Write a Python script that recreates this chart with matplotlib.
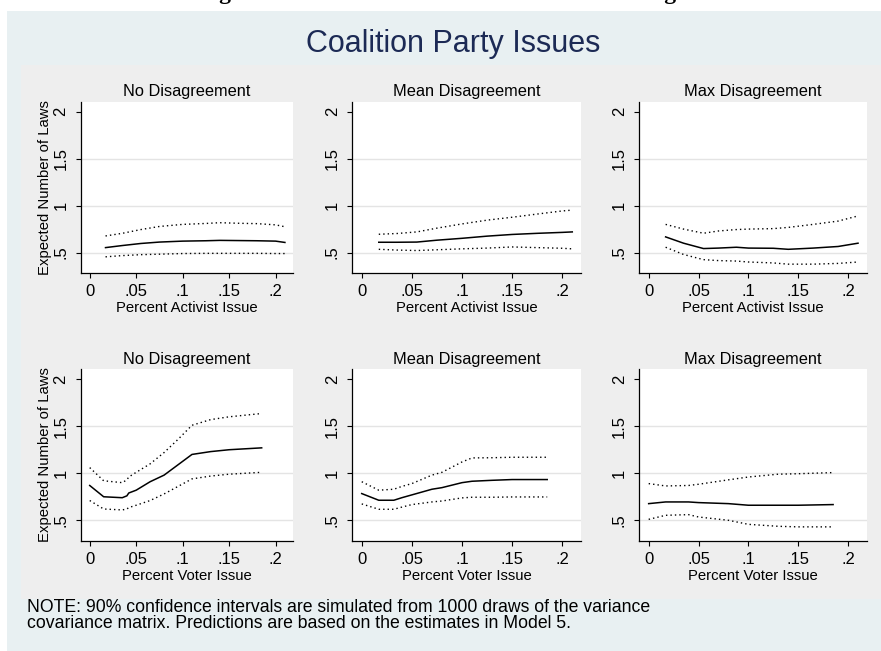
import matplotlib
matplotlib.use("Agg")
import matplotlib.pyplot as plt
from matplotlib.patches import Rectangle

plt.rcParams['font.family'] = ['Liberation Sans', 'DejaVu Sans']

W, H = 881, 651

# predicted laws by share of activist issues (top row)
no_act_x = [0.017, 0.035, 0.055, 0.075, 0.1, 0.125, 0.14, 0.16, 0.18, 0.2, 0.21]
no_act_est = [0.553, 0.575, 0.597, 0.612, 0.622, 0.626, 0.630, 0.628, 0.626, 0.622, 0.608]
no_act_hi = [0.677, 0.705, 0.745, 0.778, 0.800, 0.810, 0.818, 0.812, 0.808, 0.795, 0.775]
no_act_lo = [0.455, 0.468, 0.478, 0.483, 0.490, 0.492, 0.492, 0.492, 0.492, 0.490, 0.490]

mean_act_x = [0.017, 0.035, 0.055, 0.075, 0.1, 0.125, 0.15, 0.175, 0.2, 0.21]
mean_act_est = [0.61, 0.61, 0.612, 0.632, 0.652, 0.675, 0.693, 0.705, 0.715, 0.72]
mean_act_hi = [0.695, 0.703, 0.72, 0.76, 0.805, 0.845, 0.876, 0.91, 0.943, 0.952]
mean_act_lo = [0.535, 0.527, 0.522, 0.53, 0.54, 0.548, 0.56, 0.553, 0.546, 0.54]

max_act_x = [0.017, 0.035, 0.055, 0.07, 0.088, 0.1, 0.125, 0.14, 0.165, 0.19, 0.21]
max_act_est = [0.667, 0.60, 0.543, 0.548, 0.557, 0.548, 0.546, 0.535, 0.548, 0.565, 0.60]
max_act_hi = [0.80, 0.75, 0.706, 0.73, 0.745, 0.75, 0.755, 0.768, 0.80, 0.835, 0.89]
max_act_lo = [0.557, 0.48, 0.425, 0.415, 0.41, 0.40, 0.39, 0.377, 0.377, 0.385, 0.40]

# predicted laws by share of voter issues (bottom row)
no_vot_x = [0.0, 0.015, 0.035, 0.04, 0.042, 0.05, 0.065, 0.08, 0.095, 0.11, 0.13, 0.15, 0.185]
no_vot_est = [0.87, 0.75, 0.74, 0.76, 0.79, 0.82, 0.91, 0.98, 1.09, 1.20, 1.23, 1.25, 1.27]
no_vot_hi = [1.06, 0.92, 0.90, 0.93, 0.96, 1.01, 1.10, 1.22, 1.36, 1.51, 1.57, 1.60, 1.635]
no_vot_lo = [0.71, 0.62, 0.61, 0.62, 0.635, 0.66, 0.71, 0.78, 0.86, 0.94, 0.97, 0.99, 1.01]

mean_vot_x = [0.0, 0.017, 0.032, 0.04, 0.05, 0.07, 0.08, 0.1, 0.11, 0.13, 0.15, 0.185]
mean_vot_est = [0.784, 0.713, 0.713, 0.74, 0.77, 0.83, 0.847, 0.90, 0.915, 0.925, 0.933, 0.933]
mean_vot_hi = [0.91, 0.82, 0.83, 0.86, 0.89, 0.98, 1.01, 1.12, 1.163, 1.165, 1.17, 1.17]
mean_vot_lo = [0.674, 0.617, 0.617, 0.64, 0.667, 0.695, 0.705, 0.738, 0.745, 0.745, 0.748, 0.748]

max_vot_x = [0.0, 0.017, 0.04, 0.05, 0.08, 0.1, 0.13, 0.15, 0.185]
max_vot_est = [0.677, 0.695, 0.695, 0.688, 0.677, 0.66, 0.66, 0.66, 0.667]
max_vot_hi = [0.89, 0.865, 0.87, 0.883, 0.93, 0.96, 0.99, 0.995, 1.007]
max_vot_lo = [0.51, 0.553, 0.56, 0.535, 0.50, 0.457, 0.436, 0.43, 0.43]

panel_titles = ["No Disagreement", "Mean Disagreement", "Max Disagreement"]
row_xlabels = ["Percent Activist Issue", "Percent Voter Issue"]
ylabel = "Expected Number of Laws"
xticks = [0, 0.05, 0.1, 0.15, 0.2]
xticklabels = ["0", ".05", ".1", ".15", ".2"]
yticks = [0.5, 1, 1.5, 2]
yticklabels = [".5", "1", "1.5", "2"]

panels = [
    [(no_act_x, no_act_est, no_act_hi, no_act_lo),
     (mean_act_x, mean_act_est, mean_act_hi, mean_act_lo),
     (max_act_x, max_act_est, max_act_hi, max_act_lo)],
    [(no_vot_x, no_vot_est, no_vot_hi, no_vot_lo),
     (mean_vot_x, mean_vot_est, mean_vot_hi, mean_vot_lo),
     (max_vot_x, max_vot_est, max_vot_hi, max_vot_lo)],
]

fig = plt.figure(figsize=(W / 100, H / 100), dpi=100, facecolor="white")

# outer graph region and inner combined-plot region, kept behind the axes
fig.patches.append(Rectangle((7 / W, 0), 874 / W, 640 / H, transform=fig.transFigure,
                             facecolor="#e8f0f2", edgecolor="none", zorder=-10))
fig.patches.append(Rectangle((21 / W, 1 - 599 / H), 860 / W, 534 / H, transform=fig.transFigure,
                             facecolor="#eeeeee", edgecolor="none", zorder=-9))

fig.text(198 / W, 1.002, "Figure 4: Effect of Coalition Issues under Disagreement",
         family="Liberation Serif", weight="bold", fontsize=17, ha="left", va="baseline")
fig.text(453 / W, 1 - 44 / H, "Coalition Party Issues", fontsize=22, color="#1c2a55",
         ha="center", va="center")

col_px = [(80.7, 293.0), (352.0, 581.0), (639.0, 866.7)]
row_px = [(101.7, 273.0), (369.3, 540.7)]

for r in range(2):
    for c in range(3):
        x0, x1 = col_px[c]
        y0, y1 = row_px[r]
        ax = fig.add_axes([x0 / W, 1 - y1 / H, (x1 - x0) / W, (y1 - y0) / H])
        ax.set_facecolor("white")
        x, est, hi, lo = panels[r][c]
        for g in [0.5, 1, 1.5]:
            ax.axhline(g, color="#e4e4e4", lw=1.0, zorder=0)
        ax.plot(x, est, color="black", lw=1.1, zorder=3)
        ax.plot(x, hi, color="black", lw=1.0, linestyle=(0, (1, 2.2)), zorder=3)
        ax.plot(x, lo, color="black", lw=1.0, linestyle=(0, (1, 2.2)), zorder=3)
        ax.set_xlim(-0.0097, 0.2187)
        ax.set_ylim(0.283, 2.105)
        ax.set_xticks(xticks)
        ax.set_xticklabels(xticklabels, fontsize=12)
        ax.set_yticks(yticks)
        ax.set_yticklabels(yticklabels, fontsize=12, rotation=90, va="center")
        ax.tick_params(direction="out", length=3.8, width=0.8, color="black")
        ax.tick_params(axis="x", pad=4.0)
        ax.tick_params(axis="y", pad=5.0)
        for s in ["top", "right"]:
            ax.spines[s].set_visible(False)
        for s in ["left", "bottom"]:
            ax.spines[s].set_linewidth(0.9)
        ax.set_title(panel_titles[c], fontsize=11.8, pad=4)
        ax.set_xlabel(row_xlabels[r], fontsize=10.7, labelpad=1.5)
        if c == 0:
            ax.set_ylabel(ylabel, fontsize=10.7, labelpad=1)

fig.text(27 / W, 1 - 615.5 / H,
         "NOTE: 90% confidence intervals are simulated from 1000 draws of the variance\n"
         "covariance matrix. Predictions are based on the estimates in Model 5.",
         fontsize=12.7, ha="left", va="center", linespacing=0.85)

fig.savefig("out.png", dpi=100, facecolor=fig.get_facecolor())
